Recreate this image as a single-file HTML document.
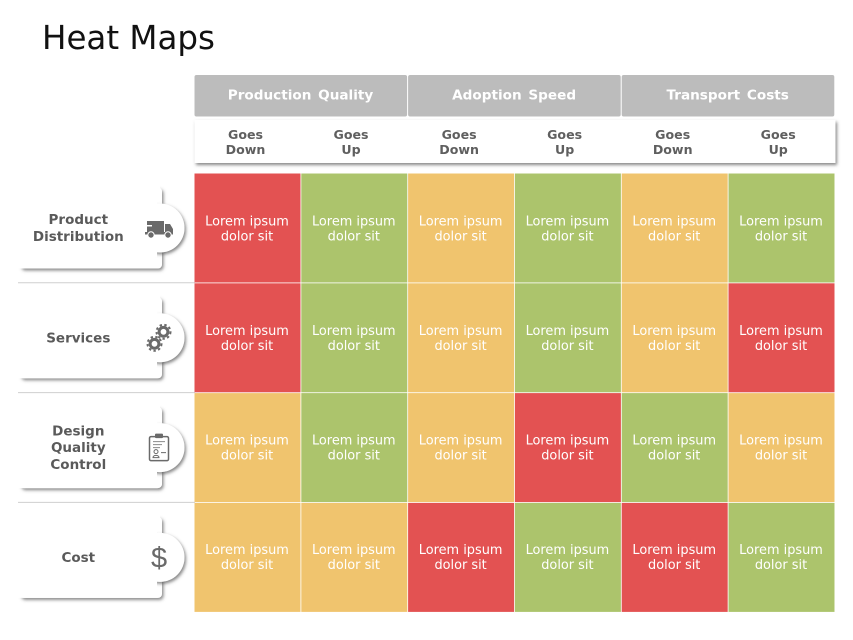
<!DOCTYPE html>
<html lang="en">
<head>
<meta charset="utf-8">
<title>Heat Maps</title>
<style>
html,body{margin:0;padding:0;background:#fff}
#stage{position:relative;width:853px;height:640px;overflow:hidden;background:#fff;font-family:"DejaVu Sans","Liberation Sans",sans-serif}
svg{position:absolute;left:0;top:0}
</style>
</head>
<body>
<div id="stage">
<svg id="chart" width="853" height="640" viewBox="0 0 853 640" xmlns="http://www.w3.org/2000/svg">
<defs>
<filter id="sh" x="-15%" y="-15%" width="130%" height="130%"><feDropShadow dx="1.5" dy="2" stdDeviation="1.5" flood-color="#555" flood-opacity=".7"/></filter>
</defs>
<text x="42" y="49" font-family="'DejaVu Sans',sans-serif" font-size="32.5" fill="#111">Heat Maps</text>
<g id="layer-heads"></g>
<g id="layer-rows"></g>
<g id="layer-cells"></g>
</svg>
</div>
<script>
const groups = ['Production Quality', 'Adoption Speed', 'Transport Costs'];
const columns = ['Goes Down', 'Goes Up', 'Goes Down', 'Goes Up', 'Goes Down', 'Goes Up'];
const rowNames = [['Product', 'Distribution'], ['Services'], ['Design', 'Quality', 'Control'], ['Cost']];
const cellLine1 = 'Lorem ipsum';
const cellLine2 = 'dolor sit';
const levelsProduct = [0, 2, 1, 2, 1, 2];
const levelsServices = [0, 2, 1, 2, 1, 0];
const levelsDesign = [1, 2, 1, 0, 2, 1];
const levelsCost = [1, 1, 0, 2, 0, 2];

const levels = [levelsProduct, levelsServices, levelsDesign, levelsCost];
const palette = ['#e35252', '#f0c46e', '#acc46c'];
const NS = 'http://www.w3.org/2000/svg';
const xLeft = 194.5, colW = 106.8, yTop = 173.5, rowH = 109.8;
const xAt = i => xLeft + i * colW;
const yAt = j => yTop + j * rowH;

function mk(tag, attrs, parent, txt) {
  const el = document.createElementNS(NS, tag);
  for (const k in attrs) el.setAttribute(k, attrs[k]);
  if (txt !== undefined) el.textContent = txt;
  parent.appendChild(el);
  return el;
}

const heads = document.getElementById('layer-heads');
const rowsG = document.getElementById('layer-rows');
const cellsG = document.getElementById('layer-cells');

/* sub-header strip */
const strip = mk('rect', {x: xAt(0), y: 120, width: 641, height: 43, fill: '#fff', filter: 'url(#sh)'}, heads);



groups.forEach((g, i) => {
  const x = xAt(i * 2);
  const r = mk('rect', {x: x, y: 75, width: colW * 2 - 1, height: 41.5, rx: 2, fill: '#bcbcbc'}, heads);
  
  
  const t = mk('text', {x: x + colW - 0.8, y: 99.5, 'text-anchor': 'middle', 'font-size': 13.6, 'font-weight': 700, 'word-spacing': 2, fill: '#fff'}, heads, g);
  
  
});

columns.forEach((c, i) => {
  const parts = c.split(' ');
  const cx = xAt(i) + (i % 2 ? 49.7 : 51);
  parts.forEach((p, k) => {
    const t = mk('text', {x: cx, y: 139 + k * 15, 'text-anchor': 'middle', 'font-size': 12.6, 'font-weight': 700, fill: '#5f5f5f'}, heads, p);
    
    
  });
});

/* row label cards */
rowNames.forEach((lines, j) => {
  const y0 = yAt(j);
  const cy = y0 + 54;
  const cardTop = y0 + 14, cardBottom = y0 + 95;
  const card = mk('rect', {x: 20, y: cardTop, width: 142, height: cardBottom - cardTop, rx: 4, fill: '#fff', filter: 'url(#sh)'}, rowsG);
  
  
  const cover = mk('rect', {x: 12, y: cardTop - 6, width: 148, height: cardBottom - cardTop + 6, rx: 3, fill: '#fff'}, rowsG);
  
  
  const circ = mk('circle', {cx: 160, cy: cy + 0.5, r: 24.5, fill: '#fff', filter: 'url(#sh)'}, rowsG);
  
  
  const patch = mk('rect', {x: 125, y: cy - 29, width: 32, height: 59, fill: '#fff'}, rowsG);
  
  
  const h = 16.8;
  const start = cy + 5 - (lines.length - 1) * h / 2;
  lines.forEach((l, k) => {
    const t = mk('text', {x: 78.3, y: start + k * h, 'text-anchor': 'middle', 'font-size': 13.5, 'font-weight': 700, fill: '#5a5a5a'}, rowsG, l);
    
    
  });
  if (j < rowNames.length - 1) {
    const sep = mk('line', {x1: 18, x2: 195, y1: yAt(j + 1) - 0.5, y2: yAt(j + 1) - 0.5, stroke: '#cfcfcf', 'stroke-width': 1}, rowsG);
    
    
  }
  drawIcon(j, 159, cy + 0.5);
});

function drawIcon(j, cx, cy) {
  const g = mk('g', {transform: 'translate(' + cx + ' ' + cy + ')', fill: '#6a6a6a', stroke: 'none'}, rowsG);
  
  if (j === 0) {
    
    mk('rect', {x: -12, y: -7, width: 17, height: 11}, g);
    mk('rect', {x: -15, y: -3, width: 8, height: 1.5, fill: '#fff'}, g);
    mk('path', {d: 'M6 -4H11L14 1V6H6Z'}, g);
    mk('rect', {x: -14, y: 4, width: 28, height: 2.5}, g);
    mk('circle', {cx: -8, cy: 7, r: 3.2, stroke: '#fff', 'stroke-width': 1}, g);
    mk('circle', {cx: 9, cy: 7, r: 3.2, stroke: '#fff', 'stroke-width': 1}, g);
  } else if (j === 1) {
    
    [[4.5, -6, 5.6], [-4.5, 6, 5.6]].forEach(v => {
      mk('circle', {cx: v[0], cy: v[1], r: v[2] - 1.2, fill: 'none', stroke: '#6a6a6a', 'stroke-width': 3}, g);
      mk('circle', {cx: v[0], cy: v[1], r: v[2] + 1.4, fill: 'none', stroke: '#6a6a6a', 'stroke-width': 2, 'stroke-dasharray': '2.4 2.4'}, g);
    });
  } else if (j === 2) {
    
    mk('rect', {x: -9.5, y: -11, width: 19, height: 24, rx: 1.5, fill: 'none', stroke: '#6a6a6a', 'stroke-width': 1.5}, g);
    mk('rect', {x: -4, y: -14, width: 8, height: 4.5, rx: 1}, g);
    mk('path', {d: 'M-6 -6H6M-6 -3H3M-6 0H1', fill: 'none', stroke: '#8a8a8a', 'stroke-width': 1}, g);
    mk('circle', {cx: -3, cy: 4, r: 2, fill: 'none', stroke: '#6a6a6a', 'stroke-width': 1}, g);
    mk('path', {d: 'M-6 10C-6 7 0 7 0 10ZM2 5H7', fill: 'none', stroke: '#6a6a6a', 'stroke-width': 1}, g);
  } else {
    
    const t = mk('text', {x: 0, y: 10, 'text-anchor': 'middle', 'font-size': 29, 'font-family': '"Liberation Sans",sans-serif', fill: '#6a6a6a'}, g, '$');
    
    
  }
}

/* heat-map cells */
levels.forEach((row, j) => {
  row.forEach((v, i) => {
    const r = mk('rect', {x: xAt(i), y: yAt(j), width: colW - 0.8, height: rowH - 0.8, fill: palette[v]}, cellsG);
    
    
    const cx = xAt(i) + colW / 2 - 0.9;
    const ty = yAt(j) + 52 - 0.3 * j;
    const t1 = mk('text', {x: cx, y: ty, 'text-anchor': 'middle', 'font-size': 12.9, fill: '#fff'}, cellsG, cellLine1);
    
    
    const t2 = mk('text', {x: cx, y: ty + 15, 'text-anchor': 'middle', 'font-size': 12.9, fill: '#fff'}, cellsG, cellLine2);
    
    
  });
});
</script>
</body>
</html>
